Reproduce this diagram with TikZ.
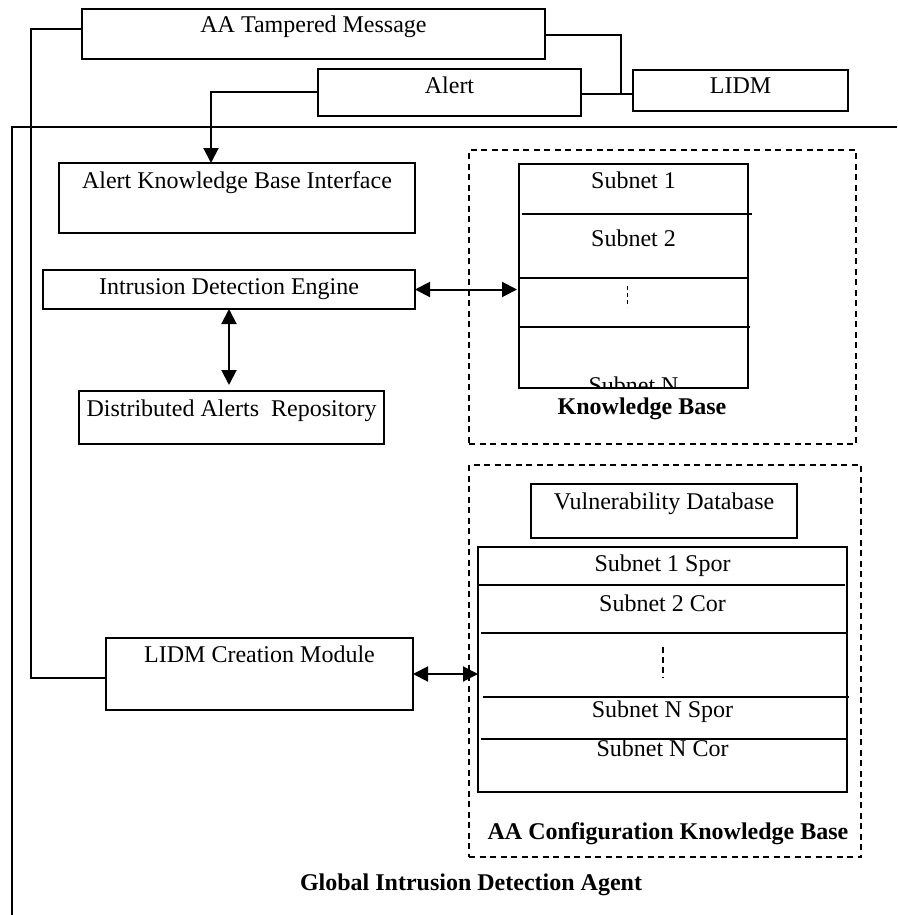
\documentclass[tikz,border=0pt]{standalone}
\usepackage{fontspec}
\setmainfont{Liberation Serif}
\usetikzlibrary{arrows.meta,calc,fit}
\begin{document}
\begin{tikzpicture}[x=1pt,y=-1pt,
  every node/.style={font=\fontsize{24}{28}\selectfont, inner sep=0pt, outer sep=0pt},
  box/.style={draw, line width=1.9pt},
  group/.style={draw, line width=1.6pt, dash pattern=on 6pt off 4.5pt},
  lbl/.style={anchor=base},
  title/.style={anchor=base, font=\fontsize{24}{28}\selectfont\bfseries},
  conn/.style={line width=1.9pt},
  row/.style={line width=1.5pt},
  tip/.style={-{Triangle[length=15pt,width=15pt]}, line width=2pt},
  dbl/.style={{Triangle[length=15pt,width=15pt]}-{Triangle[length=15pt,width=15pt]}, line width=2pt}
  ]
\useasboundingbox (0,0) rectangle (897,915);

% outer frame of the agent
\draw[conn] (897,127) -- (12,127) -- (12,915);

% message boxes above the agent
\node[box, fit={(82,9) (545,59)}] (aa) {};
\node[box, fit={(318,69) (581,116)}] (al) {};
\node[box, fit={(633,70) (848,111)}] (lidm) {};
\node[lbl] at ($(aa.north)+(0,24)$) {AA Tampered Message};
\node[lbl] at ($(al.north)+(0,25)$) {Alert};
\node[lbl] at ($(lidm.north)+(0,24)$) {LIDM};

% modules of the agent
\node[box, fit={(59,163) (415,233)}] (ake) {};
\node[box, fit={(43,270) (415,309)}] (ide) {};
\node[box, fit={(79,391) (384,444)}] (dar) {};
\node[box, fit={(106,638) (413,710)}] (lcm) {};
\node[lbl] at ($(ake.north)+(0,25)$) {Alert Knowledge Base Interface};
\node[lbl] at ($(ide.north)+(0,24)$) {Intrusion Detection Engine};
\node[lbl] at ($(dar.north)+(0,25)$) {Distributed Alerts~ Repository};
\node[lbl] at ($(lcm.north)+(0,24)$) {LIDM Creation Module};

% knowledge base
\node[group, fit={(469,150) (856,444)}] (kbd) {};
\node[box, fit={(519,164) (748,388)}] (kbt) {};
\draw[row] (522,214) -- (752,214);
\draw[row] (519,278) -- (748,278);
\draw[row] (519,327) -- (750,327);
\node[lbl] at ($(kbt.north)+(0,24)$) {Subnet 1};
\node[lbl] at ($(kbt.north)+(0,82)$) {Subnet 2};
\draw[line width=1pt, dash pattern=on 4pt off 3pt] (627,286) -- (627,307);
\begin{scope}
  \clip (kbt.north west) rectangle (kbt.south east);
  \node[lbl] at ($(kbt.south)+(0,5)$) {Subnet N};
\end{scope}
\node[title] at (642,414) {Knowledge Base};

% configuration knowledge base
\node[group, fit={(469,465) (861,857)}] (cfd) {};
\node[box, fit={(531,484) (797,538)}] (vdb) {};
\node[lbl] at ($(vdb.north)+(0,25)$) {Vulnerability Database};
\node[box, fit={(478,547) (847,792)}] (cft) {};
\draw[row] (478,585) -- (845,585);
\draw[row] (481,633) -- (847,633);
\draw[row] (483,697) -- (849,697);
\draw[row] (481,739) -- (847,739);
\node[lbl] at ($(cft.north)+(0,24)$) {Subnet 1 Spor};
\node[lbl] at ($(cft.north)+(0,64)$) {Subnet 2 Cor};
\draw[line width=2pt, dash pattern=on 6pt off 4pt] (663,647) -- (663,678);
\node[lbl] at ($(cft.north)+(0,170)$) {Subnet N Spor};
\node[lbl] at ($(cft.north)+(0,209)$) {Subnet N Cor};
\node[title] at (668,839) {AA Configuration Knowledge Base};

\node[title] at (471,890) {Global Intrusion Detection Agent};

% connectors
\coordinate (jn) at (621,94);
\coordinate (lft) at (31,29);
\draw[conn] ([yshift=5pt]aa.west) -| (lft) |- ([yshift=-4pt]lcm.west);
\draw[conn] ([yshift=-1pt]aa.east) -| (jn);
\draw[conn] (al.east |- jn) -- (lidm.west |- jn);
\draw[tip] ([yshift=0.5pt]al.west) -| ([xshift=-26pt]ake.north);
\draw[dbl] (ide.east) -- ($(ide.east -| kbt.west)+(-2,0)$);
\draw[dbl] (ide.south) -- ($(ide.south |- dar.north)+(0,-6)$);
\draw[dbl] (lcm.east) -- (lcm.east -| cft.west);
\end{tikzpicture}
\end{document}
